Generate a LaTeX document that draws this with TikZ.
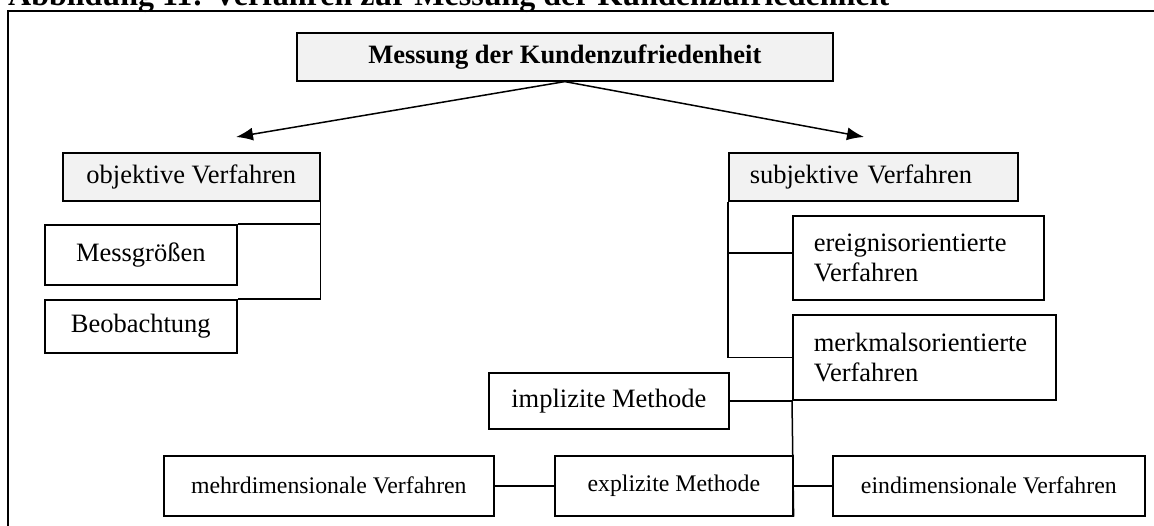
\documentclass[tikz,border=0pt]{standalone}
\usepackage{fontspec}
\setmainfont{Liberation Serif}
\usetikzlibrary{arrows.meta}

\begin{document}
\begin{tikzpicture}[
    x=1pt,
    y=-1pt,
    line join=miter,
    every node/.style={font=\fontsize{26.5pt}{30pt}\selectfont},
    box/.style={draw, line width=1.6pt, inner sep=0pt, anchor=north west},
    graybox/.style={box, fill=boxgray},
    small/.style={font=\fontsize{23.8pt}{27pt}\selectfont},
    link/.style={line width=1.5pt},
    pfeil/.style={line width=1.5pt, -{Latex[length=17pt,width=13pt]}}
]

\definecolor{boxgray}{RGB}{242,242,242}

\useasboundingbox (0,0) rectangle (1154,526);
\clip (0,0) rectangle (1154,526);

% -----------------------------
% Caption and frame
% -----------------------------
\node[anchor=base west, inner sep=0pt,
      font=\fontsize{32pt}{36pt}\selectfont\bfseries] (titel) at (8,6)
{Abbildung 11: Verfahren zur Messung der Kundenzufriedenheit};

\draw[line width=1.8pt] (8,11) rectangle (1175,545);

% -----------------------------
% Top: root and the two branches
% -----------------------------
\node[graybox, minimum width=536, minimum height=48,
      font=\fontsize{26.5pt}{30pt}\selectfont\bfseries] (mess) at (296,32)
{Messung der Kundenzufriedenheit};

\coordinate (objtip) at (236,137);
\coordinate (subtip) at (864,137);

\draw[pfeil] (mess.south) -- (objtip);
\draw[pfeil] (mess.south) -- (subtip);

% -----------------------------
% Left: objektive Verfahren
% -----------------------------
\node[graybox, minimum width=257, minimum height=48] (objv) at (62,152)
{objektive Verfahren};

\node[box, minimum width=192, minimum height=60] (messg) at (44,224)
{Messgrößen};

\node[box, minimum width=192, minimum height=53] (beob) at (44,299)
{Beobachtung};

\draw[link] (objv.south east) |- (messg.north east);
\draw[link] (objv.south east) |- (beob.north east);

% -----------------------------
% Right: subjektive Verfahren
% -----------------------------
\node[graybox, text width=247pt, inner xsep=21pt, minimum height=48,
      align=left] (subjv) at (728,152)
{subjektive Verfahren};

\node[box, text width=209pt, inner xsep=21pt, minimum height=84,
      align=left] (ereig) at (792,215)
{ereignisorientierte\\Verfahren};

\node[box, text width=221pt, inner xsep=21pt, minimum height=85,
      align=left] (merkm) at (792,314)
{merkmalsorientierte\\Verfahren};

\draw[link] (subjv.south west) |- ([yshift=5pt]ereig.west);
\draw[link] (subjv.south west) |- (merkm.west);

% -----------------------------
% Bottom: methods
% -----------------------------
\node[box, minimum width=240, minimum height=56] (impl) at (488,372)
{implizite Methode};

\node[box, small, minimum width=330, minimum height=60] (mehrd) at (163,455)
{mehrdimensionale Verfahren};

\node[box, small, minimum width=238, minimum height=60] (expl) at (554,455)
{explizite Methode};

\node[box, small, minimum width=312, minimum height=60] (eind) at (832,455)
{eindimensionale Verfahren};

\draw[link] (impl.east) -- (impl.east -| merkm.west);
\draw[link] (merkm.south west) -- (expl.south east);
\draw[link] (mehrd.east) -- (expl.west);
\draw[link] (expl.east) -- (eind.west);

\end{tikzpicture}
\end{document}
